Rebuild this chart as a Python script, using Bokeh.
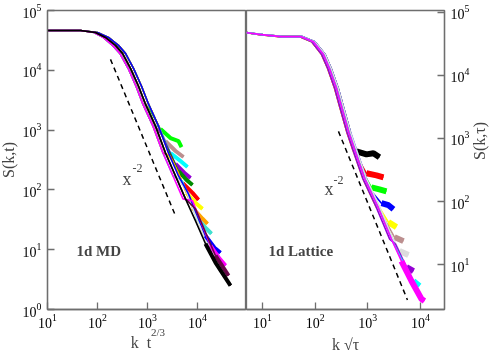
import math
from bokeh.plotting import figure
from bokeh.models import Range1d, Label, LogTicker, LogAxis, FixedTicker
from bokeh.layouts import row
from bokeh.embed import file_html
from bokeh.resources import INLINE

# ---------------- data: left panel (1d MD) ----------------
MD_HEAD_X = [10, 45.7, 91.2, 144.5, 229, 316, 457, 661, 912, 1445, 2291, 3631, 5754, 9120]
MD_HEAD_X_B = [10, 45.7, 100, 166, 263, 363, 525, 760, 1050, 1660, 2630, 4170, 6610, 10500]
MD_HEAD_X_C = [10, 45.7, 85, 130, 200, 280, 410, 590, 810, 1290, 2040, 3240, 5130, 8130]
MD_HEAD_Y = [46416, 46416, 42987, 35481, 26102, 19201, 10801, 5412, 2712, 1166, 414, 171, 70.8, 30.4]
MD_TAIL_X = [
    [1148, 1820, 2884, 4169, 4786],        # green
    [1445, 2291, 3631, 5248],              # brown
    [1660, 2884, 4571, 6310],              # cyan
    [1995, 3631, 5495, 7244],              # violet
    [2291, 4169, 6026, 7943],              # green4
    [2884, 5012, 7943, 10471],             # red
    [3162, 6026, 9550, 12589],             # yellow
    [4169, 7943, 12589, 15849],            # orange
    [5012, 9550, 15136, 19055],            # turquoise
    [5754, 11482, 18197, 23988],           # grey
    [6607, 14454, 21878, 28840],           # blue
    [7943, 18197, 27542, 36308],           # magenta
    [9120, 22909, 41687],                  # maroon
    [9120, 14454, 22909, 45709],           # black
]
MD_TAIL_Y = [
    [2073, 1039, 736, 656, 521],
    [1525, 656, 447, 355],
    [1166, 414, 304, 242],
    [794, 271, 192, 158],
    [584, 207, 147, 121],
    [369, 131, 89.1, 68.1],
    [304, 89.1, 58.5, 48.2],
    [192, 50.1, 32.9, 27.1],
    [141, 34.1, 22.4, 18.5],
    [104, 22.4, 11.2, 7.36],
    [85.8, 17.1, 10.8, 8.9],
    [65.6, 11.7, 7.08, 5.41],
    [48.2, 7.94, 3.69],
    [30.4, 12.6, 6.07, 2.51],
]
MD_DASH_X = [182, 3631]
MD_DASH_Y = [15250, 36.9]

# ---------------- data: right panel (1d Lattice) ----------------
LAT_HEAD_X = [4.97, 9.57, 22.9, 55.0, 92.9, 143.8, 187, 254, 316, 429, 558, 865, 1593, 2812]
LAT_HEAD_X_B = [4.97, 10.2, 24.5, 58, 99, 155, 202, 275, 342, 464, 604, 936, 1724, 3043]
LAT_HEAD_X_C = [4.97, 8.9, 21.3, 51, 86, 133, 173, 235, 292, 397, 516, 800, 1473, 2601]
LAT_HEAD_Y = [47300, 44000, 40850, 40850, 34050, 21220, 12760, 6170, 3206, 1291, 670, 233, 78.4, 25.4]
LAT_TAIL_X = [
    [490, 609, 944, 1280, 1664],           # black
    [665, 944, 1459, 1983],                # red
    [827, 1173, 1664, 2259],               # green
    [1173, 1816, 2466, 3069],              # blue
    [1593, 2466, 3499],                    # yellow
    [2071, 3206, 4753],                    # brown
    [2576, 3990, 5914],                    # grey
    [3350, 5418, 7362],                    # violet
    [4355, 7362, 9578],                    # cyan
    [2812, 4355, 6743, 10450, 11910],      # magenta
]
LAT_TAIL_Y = [
    [897, 623, 558, 580, 501],
    [466, 280, 260, 242],
    [280, 168, 156, 145],
    [145, 94, 87.4, 75.5],
    [84.3, 47.1, 39.3],
    [52.5, 27.3, 23.6],
    [34.0, 16.4, 14.2],
    [21.1, 9.17, 7.92],
    [12.3, 5.51, 4.59],
    [25.4, 11.4, 5.51, 2.86, 2.66],
]
LAT_DASH_X = [277, 5662]
LAT_DASH_Y = [1291, 2.76]

# ---------------- styles ----------------
MD_COLORS = ["#00ff00", "#bc8f8f", "#00ffff", "#9400d3", "#008b00", "#ff0000", "#ffff00",
             "#ffa500", "#40e0d0", "#dcdcdc", "#0000ff", "#ff00ff", "#670748", "#000000"]
LAT_COLORS = ["#000000", "#ff0000", "#00ff00", "#0000ff", "#ffff00", "#bc8f8f", "#dcdcdc",
              "#9400d3", "#00ffff", "#ff00ff"]
FONT = "Liberation Serif"
AX = "#6e6e6e"
NB = "\u00a0"


def build(head_x, head_y, tx, ty):
    hx = [x for x in head_x if x < tx[0]]
    hy = head_y[:len(hx)]
    return hx + tx, hy + ty


def style_axis(ax):
    ax.ticker = LogTicker(desired_num_ticks=6)
    ax.major_tick_in = 7
    ax.major_tick_out = 0
    ax.minor_tick_line_color = None
    ax.axis_line_color = AX
    ax.axis_line_width = 1.3
    ax.major_tick_line_color = AX
    ax.major_tick_line_width = 1.3
    ax.major_label_text_font = FONT
    ax.major_label_text_font_size = "14px"
    ax.major_label_text_color = "black"
    ax.axis_label_text_font = FONT
    ax.axis_label_text_font_size = "16px"
    ax.axis_label_text_font_style = "normal"
    ax.major_label_standoff = 2
    ax.axis_label_standoff = 4


def base_fig(width, xr, yr, yloc, ml, mr):
    p = figure(width=width, height=355, x_axis_type="log", y_axis_type="log",
               x_range=Range1d(*xr), y_range=Range1d(*yr), y_axis_location=yloc,
               output_backend="svg", toolbar_location=None,
               min_border_left=ml, min_border_right=mr, min_border_top=10, min_border_bottom=46)
    p.grid.visible = False
    p.outline_line_color = AX
    p.outline_line_width = 1.3
    for ax in p.axis:
        style_axis(ax)
    for ax in p.xaxis:
        ax.major_label_standoff = 0
        ax.axis_label_standoff = 5
    return p


# ---------------- left panel ----------------
p1 = base_fig(253, (10, 95500), (1, 1e5), "left", 54, 0)
# superscript "2/3" as the label of the tick axis, "k  t" on a bare axis below it
p1.xaxis.axis_label = NB * 8 + "2/3"
p1.xaxis.axis_label_text_font_size = "11px"
p1.xaxis.axis_label_standoff = -5
kt = LogAxis(ticker=FixedTicker(ticks=[]), axis_label="k" + NB * 2 + "t" + NB * 3,
             axis_line_color=None, major_tick_line_color=None, minor_tick_line_color=None,
             major_label_text_font_size="0px", major_label_standoff=0, axis_label_standoff=-7,
             axis_label_text_font=FONT, axis_label_text_font_size="16px",
             axis_label_text_font_style="normal")
p1.add_layout(kt, "below")
p1.yaxis.axis_label = "S(k,t)"
p1.yaxis.axis_label_standoff = 3
md_heads = [MD_HEAD_X, MD_HEAD_X_B, MD_HEAD_X_C]
for i, (tx, ty, c) in enumerate(zip(MD_TAIL_X, MD_TAIL_Y, MD_COLORS)):
    hx = md_heads[i % 3] if c != "#000000" else MD_HEAD_X
    xs, ys = build(hx, MD_HEAD_Y, tx, ty)
    p1.line(xs, ys, line_color=c, line_width=1.6)
    p1.line(tx[1:], ty[1:], line_color=c, line_width=4)
p1.line(MD_DASH_X, MD_DASH_Y, line_color="black", line_width=1.5, line_dash="5 4")
p1.add_layout(Label(x=316, y=152, text="x", text_font=FONT, text_font_size="18px",
                    text_baseline="alphabetic"))
p1.add_layout(Label(x=501, y=233, text="-2", text_font=FONT, text_font_size="12px",
                    text_baseline="alphabetic"))
p1.add_layout(Label(x=38, y=9.6, text="1d MD", text_font=FONT, text_font_size="15px",
                    text_font_style="bold", text_baseline="alphabetic"))

# ---------------- right panel ----------------
p2 = base_fig(259, (4.97, 28600), (1.95, 106000), "right", 0, 61)
p2.xaxis.axis_label = "k \u221a\u03c4"
p2.yaxis.axis_label = "S(k,\u03c4)"
p2.yaxis.axis_label_standoff = 7
try:
    p2.yaxis[0].axis_label_orientation = math.pi / 2
except Exception:
    pass
lat_heads = [LAT_HEAD_X_B, LAT_HEAD_X_C, LAT_HEAD_X]
for i, (tx, ty, c) in enumerate(zip(LAT_TAIL_X, LAT_TAIL_Y, LAT_COLORS)):
    hx = lat_heads[i % 3] if c != "#ff00ff" else LAT_HEAD_X
    xs, ys = build(hx, LAT_HEAD_Y, tx, ty)
    p2.line(xs, ys, line_color=c, line_width=1.6)
    p2.line(tx[1:], ty[1:], line_color=c, line_width=6)
p2.line(LAT_DASH_X, LAT_DASH_Y, line_color="black", line_width=1.5, line_dash="5 4")
p2.add_layout(Label(x=150, y=156, text="x", text_font=FONT, text_font_size="18px",
                    text_baseline="alphabetic"))
p2.add_layout(Label(x=223, y=217, text="-2", text_font=FONT, text_font_size="12px",
                    text_baseline="alphabetic"))
p2.add_layout(Label(x=13.0, y=16.4, text="1d Lattice", text_font=FONT, text_font_size="15px",
                    text_font_style="bold", text_baseline="alphabetic"))

layout = row(p1, p2, styles={"position": "fixed", "top": "0px", "left": "-7px"})
open("out.html", "w").write(file_html(layout, INLINE))
